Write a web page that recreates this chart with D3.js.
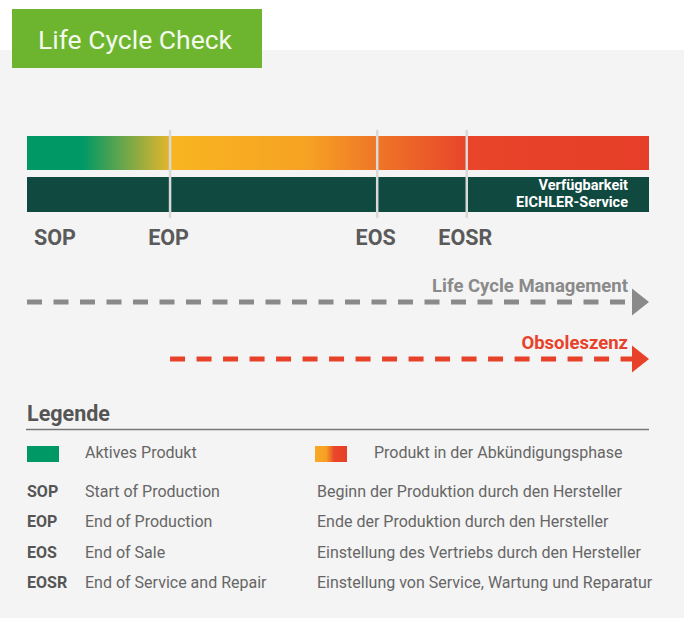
<!DOCTYPE html>
<html>
<head>
<meta charset="utf-8">
<script src="https://cdn.jsdelivr.net/npm/d3@7"></script>
<style>
  body { margin: 0; background: #fff; }
  svg { display: block; font-family: Roboto, "Noto Sans", sans-serif; }
</style>
</head>
<body>
<div id="graph"></div>
<script>
// milestones along the life cycle (percent of the bar)
var milestones = ["SOP", "EOP", "EOS", "EOSR"];
var milestonePos = [0, 23, 56.3, 70.7];

// colour stops of the phase bar (percent, colour)
var stopOffsets = [0, 9, 22.8, 23.2, 45, 56, 70.7, 100];
var stopColors = ["#009966", "#009966", "#e2b52c", "#f9b521", "#f6a223", "#ef7727", "#e8452a", "#e63e28"];

// arrows: start (percent) and label
var arrowNames = ["Life Cycle Management", "Obsoleszenz"];
var arrowStart = [0, 23];

// legend
var legendSwatches = ["Aktives Produkt", "Produkt in der Abkündigungsphase"];
var abbrevs = ["SOP", "EOP", "EOS", "EOSR"];
var abbrevEn = ["Start of Production", "End of Production", "End of Sale", "End of Service and Repair"];
var abbrevDe = ["Beginn der Produktion durch den Hersteller", "Ende der Produktion durch den Hersteller",
                "Einstellung des Vertriebs durch den Hersteller", "Einstellung von Service, Wartung und Reparatur"];

var w = 684, h = 618;

var svg = d3.select("#graph")
	.append("svg")
	.attr("width", w)
	.attr("height", h);

var defs = svg.append("defs");

var grad = defs.append("linearGradient")
	.attr("id", "phase")
	.attr("x1", "0%").attr("x2", "100%");
grad.selectAll("stop")
	.data(stopOffsets)
	.enter().append("stop")
	.attr("offset", function (d) { return d + "%"; })
	.attr("stop-color", function (d, i) { return stopColors[i]; });

var grad2 = defs.append("linearGradient")
	.attr("id", "phaseLegend")
	.attr("x1", "0%").attr("x2", "100%");
grad2.append("stop").attr("offset", "0%").attr("stop-color", "#f9a825");
grad2.append("stop").attr("offset", "35%").attr("stop-color", "#f6a024");
grad2.append("stop").attr("offset", "60%").attr("stop-color", "#e9472a");
grad2.append("stop").attr("offset", "100%").attr("stop-color", "#e63e28");

// background panel
svg.append("rect")
	.attr("x", 0).attr("y", 50)
	.attr("width", w).attr("height", h - 50)
	.attr("fill", "#f4f4f4");

// title box
svg.append("rect")
	.attr("x", 12).attr("y", 9)
	.attr("width", 250).attr("height", 59)
	.attr("fill", "#6db52e");
svg.append("text")
	.attr("x", 38).attr("y", 49)
	.attr("fill", "#f3f9ec")
	.attr("font-size", 26.5)
	.text("Life Cycle Check");

var xScale = d3.scaleLinear()
	.domain([0, 100])
	.range([27, 649]);

// bars
svg.append("rect")
	.attr("x", xScale(0)).attr("y", 136)
	.attr("width", xScale(100) - xScale(0)).attr("height", 34)
	.attr("fill", "url(#phase)");
svg.append("rect")
	.attr("x", xScale(0)).attr("y", 177)
	.attr("width", xScale(100) - xScale(0)).attr("height", 35)
	.attr("fill", "#10493f");

svg.append("text")
	.attr("x", 628).attr("y", 189.5)
	.attr("text-anchor", "end")
	.attr("fill", "#fff")
	.attr("font-size", 14.5)
	.attr("font-weight", "bold")
	.text("Verfügbarkeit");
svg.append("text")
	.attr("x", 628).attr("y", 207)
	.attr("text-anchor", "end")
	.attr("fill", "#fff")
	.attr("font-size", 14.5)
	.attr("font-weight", "bold")
	.text("EICHLER-Service");

// milestone lines + labels
var ms = svg.append("g").attr("id", "milestones");
ms.selectAll("line")
	.data(milestonePos.filter(function (d) { return d > 0; }))
	.enter().append("line")
	.attr("x1", function (d) { return xScale(d); })
	.attr("x2", function (d) { return xScale(d); })
	.attr("y1", 130).attr("y2", 218)
	.attr("stroke", "#d9d9d9")
	.attr("stroke-width", 2.5);

ms.selectAll("text")
	.data(milestones)
	.enter().append("text")
	.attr("x", function (d, i) {
		return milestonePos[i] == 0 ? xScale(0) + 7 : xScale(milestonePos[i]) - 1.5;
	})
	.attr("y", 245)
	.attr("text-anchor", function (d, i) { return milestonePos[i] == 0 ? "start" : "middle"; })
	.attr("fill", "#5a5a5a")
	.attr("font-size", 21.5)
	.attr("font-weight", "bold")
	.text(function (d) { return d; });

// dashed arrows
var arrowColors = ["#8a8a8a", "#e8412a"];
var arrowY = [302, 359];
arrowNames.forEach(function (name, i) {
	var g = svg.append("g");
	g.append("line")
		.attr("x1", xScale(arrowStart[i])).attr("x2", 633)
		.attr("y1", arrowY[i]).attr("y2", arrowY[i])
		.attr("stroke", arrowColors[i])
		.attr("stroke-width", 5)
		.attr("stroke-dasharray", "15,11.5");
	g.append("path")
		.attr("d", "M" + 632 + "," + (arrowY[i] - 13.5) + "L" + xScale(100) + "," + arrowY[i] +
			"L" + 632 + "," + (arrowY[i] + 13.5) + "Z")
		.attr("fill", arrowColors[i]);
	g.append("text")
		.attr("x", 628).attr("y", arrowY[i] - 10)
		.attr("text-anchor", "end")
		.attr("fill", arrowColors[i])
		.attr("font-size", 18.5)
		.attr("font-weight", "bold")
		.text(name);
});

// legend
svg.append("text")
	.attr("x", 27).attr("y", 421)
	.attr("fill", "#555")
	.attr("font-size", 21.5)
	.attr("font-weight", "bold")
	.text("Legende");
svg.append("line")
	.attr("x1", 26).attr("x2", 649)
	.attr("y1", 429.5).attr("y2", 429.5)
	.attr("stroke", "#777")
	.attr("stroke-width", 1.5);

var swX = [27, 315], txX = [85, 374];
var swFill = ["#009966", "url(#phaseLegend)"];
legendSwatches.forEach(function (t, i) {
	svg.append("rect")
		.attr("x", swX[i]).attr("y", 446)
		.attr("width", 32).attr("height", 16)
		.attr("fill", swFill[i]);
	svg.append("text")
		.attr("x", txX[i]).attr("y", 458)
		.attr("fill", "#666")
		.attr("font-size", 16)
		.text(t);
});

var rows = svg.append("g").attr("id", "abbrev");
var rowY = d3.scalePoint().domain(abbrevs).range([497, 588]);
abbrevs.forEach(function (a, i) {
	rows.append("text")
		.attr("x", 27).attr("y", rowY(a))
		.attr("fill", "#555")
		.attr("font-size", 16)
		.attr("font-weight", "bold")
		.text(a);
	rows.append("text")
		.attr("x", 85).attr("y", rowY(a))
		.attr("fill", "#666")
		.attr("font-size", 16)
		.text(abbrevEn[i]);
	rows.append("text")
		.attr("x", 317).attr("y", rowY(a))
		.attr("fill", "#666")
		.attr("font-size", 16)
		.text(abbrevDe[i]);
});
</script>
</body>
</html>
